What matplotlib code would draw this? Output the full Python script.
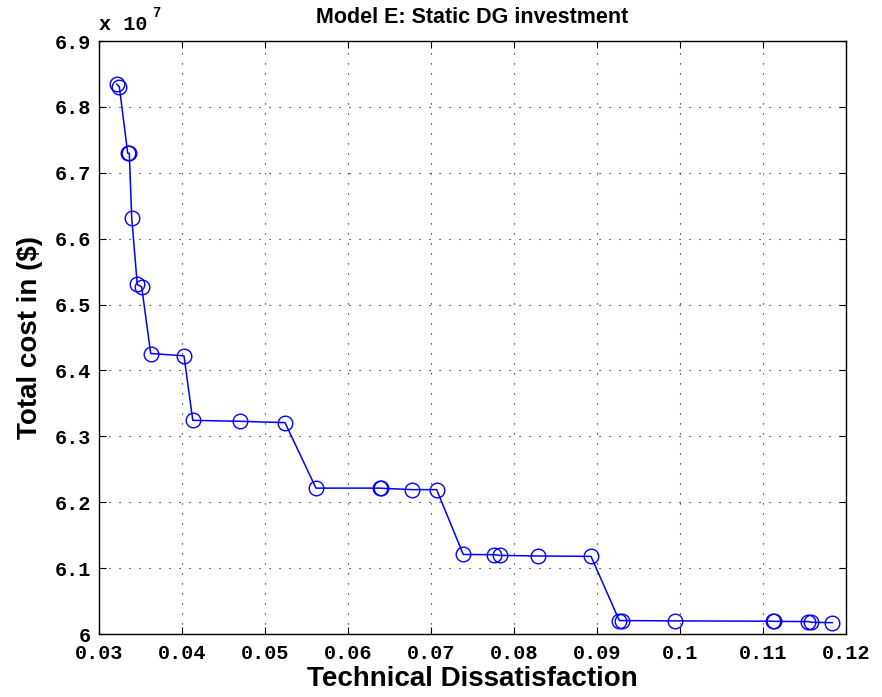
import matplotlib
matplotlib.use("Agg")
import matplotlib.pyplot as plt
from matplotlib.ticker import FuncFormatter

# Technical dissatisfaction (x) vs total cost in $ (y)
tech_dissatisfaction = [0.03213, 0.03245, 0.03346, 0.03365, 0.03394, 0.03461, 0.03514,
                        0.03623, 0.04024, 0.04130, 0.04695, 0.05241, 0.05614, 0.06390,
                        0.06400, 0.06775, 0.07068, 0.07389, 0.07759, 0.07831, 0.08285,
                        0.08928, 0.09269, 0.09297, 0.09940, 0.11116, 0.11135, 0.11546,
                        0.11578, 0.11834]
total_cost = [6.8344e7, 6.8307e7, 6.7296e7, 6.7296e7, 6.6320e7, 6.5305e7, 6.5269e7,
              6.4257e7, 6.4222e7, 6.3243e7, 6.3228e7, 6.3208e7, 6.2214e7, 6.2214e7,
              6.2212e7, 6.2191e7, 6.2191e7, 6.1207e7, 6.1204e7, 6.1193e7, 6.1184e7,
              6.1178e7, 6.0204e7, 6.0204e7, 6.0199e7, 6.0194e7, 6.0192e7, 6.0188e7,
              6.0178e7, 6.0172e7]

x_ticks = [0.03, 0.04, 0.05, 0.06, 0.07, 0.08, 0.09, 0.10, 0.11, 0.12]
y_ticks = [6.0e7, 6.1e7, 6.2e7, 6.3e7, 6.4e7, 6.5e7, 6.6e7, 6.7e7, 6.8e7, 6.9e7]

mono = "Liberation Mono"
sans = "Liberation Sans"

fig = plt.figure(figsize=(8.82, 6.97), dpi=100)
ax = fig.add_axes([99 / 882, 1 - 634 / 697, (846 - 99) / 882, (634 - 41) / 697])

ax.plot(tech_dissatisfaction, total_cost, color=(0, 0, 1), lw=1.1,
        marker="o", markersize=10.5, markerfacecolor="none",
        markeredgecolor=(0, 0, 1), markeredgewidth=1.0)

ax.set_xlim(0.03, 0.12)
ax.set_ylim(6.0e7, 6.9e7)
ax.set_xticks(x_ticks)
ax.set_yticks(y_ticks)
ax.xaxis.set_major_formatter(FuncFormatter(lambda v, p: f"{v:g}"))
ax.yaxis.set_major_formatter(FuncFormatter(lambda v, p: f"{v / 1e7:g}"))

ax.grid(True, color="black", linestyle=(0, (1, 8)), linewidth=0.8)
ax.tick_params(direction="in", length=5, width=0.8, top=True, right=True,
               labelsize=14.5, pad=6)
ax.tick_params(axis="x", pad=7.5)
for lab in ax.get_xticklabels() + ax.get_yticklabels():
    lab.set_fontfamily(mono)
    lab.set_fontweight("bold")
for s in ax.spines.values():
    s.set_linewidth(1.0)

ax.text(0.0, 1.012, "x 10", transform=ax.transAxes, fontfamily=mono,
        fontweight="bold", fontsize=14.5, ha="left", va="bottom")
ax.text(0.071, 1.035, "7", transform=ax.transAxes, fontfamily=mono,
        fontweight="bold", fontsize=10, ha="left", va="bottom")

ax.set_title("Model E: Static DG investment", fontfamily=sans, fontweight="bold",
             fontsize=15.5, pad=13)
ax.set_xlabel("Technical Dissatisfaction", fontfamily=sans, fontweight="bold",
              fontsize=20, labelpad=2)
ax.set_ylabel("Total cost in ($)", fontfamily=sans, fontweight="bold",
              fontsize=20, labelpad=8)

fig.savefig("out.png", dpi=100)
